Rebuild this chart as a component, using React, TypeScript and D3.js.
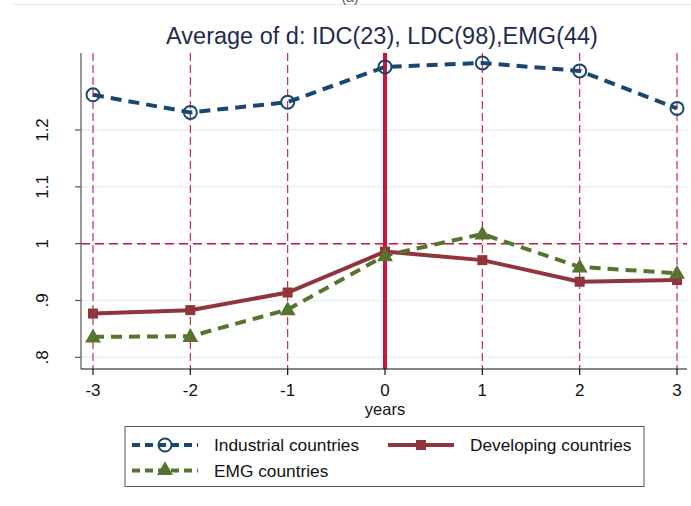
import React from "react";
import * as d3 from "d3";

const years = [-3, -2, -1, 0, 1, 2, 3];
const industrial = [1.262, 1.231, 1.249, 1.311, 1.318, 1.304, 1.238];
const developing = [0.877, 0.883, 0.914, 0.986, 0.971, 0.933, 0.936];
const emg = [0.836, 0.837, 0.884, 0.979, 1.017, 0.959, 0.948];
const yTicks = [0.8, 0.9, 1, 1.1, 1.2];
const yTickLabels = [".8", ".9", "1", "1.1", "1.2"];
const titleText = "Average of d: IDC(23), LDC(98),EMG(44)";
const seriesNames = ["Industrial countries", "Developing countries", "EMG countries"];

const W = 691;
const H = 506;
const plotLeft = 81;
const plotRight = 687;
const plotTop = 53;
const plotBottom = 369;

const NAVY = "#1a476f";
const MAROON = "#90353b";
const GREEN = "#55752f";
const RED = "#c8163d";
const FONT = "'Liberation Sans', Arial, Helvetica, sans-serif";

export default function App() {
  const x = d3.scaleLinear().domain([-3, 3]).range([93, 677]);
  const y = d3.scaleLinear().domain([0.8, 1.2]).range([357.3, 130]);

  const line = d3
    .line<number>()
    .x((_, i) => x(years[i]))
    .y((v) => y(v));

  const tri = d3.symbol().type(d3.symbolTriangle).size(110)();

  const triAt = (cx: number, cy: number, key: any) => (
    <path key={key} d={tri || ""} transform={`translate(${cx},${cy})`} fill={GREEN} />
  );
  const sqAt = (cx: number, cy: number, key: any) => (
    <rect key={key} x={cx - 5} y={cy - 5} width={10} height={10} fill={MAROON} />
  );
  const circAt = (cx: number, cy: number, key: any) => (
    <circle key={key} cx={cx} cy={cy} r={6.5} fill="white" fillOpacity={0} stroke={NAVY} strokeWidth={2} />
  );

  return (
    <svg
      width={W}
      height={H}
      style={{ position: "absolute", left: 0, top: 0, background: "white" }}
      fontFamily={FONT}
    >
      <rect x={0} y={0} width={W} height={H} fill="white" />
      <line x1={13} x2={W} y1={4.5} y2={4.5} stroke="#e3e3e3" strokeWidth={1} />
      <text x={350} y={2} fontSize={14} textAnchor="middle" fill="#555">(a)</text>

      <text x={382} y={44} fontSize={23.5} textAnchor="middle" fill="#1e2b50">
        {titleText}
      </text>

      {/* horizontal grid */}
      {yTicks.map((t) => (
        <line key={"g" + t} x1={plotLeft} x2={plotRight} y1={y(t)} y2={y(t)} stroke="#eaf2f3" strokeWidth={1.5} />
      ))}

      {/* vertical dashed reference lines */}
      {years.filter((v) => v !== 0).map((v) => (
        <line
          key={"v" + v}
          x1={x(v)}
          x2={x(v)}
          y1={plotTop}
          y2={plotBottom}
          stroke={RED}
          strokeWidth={1.1}
          strokeDasharray="8,4"
        />
      ))}
      <line x1={plotLeft} x2={plotRight} y1={y(1)} y2={y(1)} stroke={RED} strokeWidth={1.5} strokeDasharray="9,5" />
      <line x1={x(0)} x2={x(0)} y1={plotTop} y2={plotBottom} stroke={RED} strokeWidth={4} />

      {/* axes */}
      <line x1={plotLeft} x2={plotLeft} y1={plotTop} y2={plotBottom} stroke="#555" strokeWidth={1.2} />
      <line x1={plotLeft} x2={plotRight} y1={plotBottom} y2={plotBottom} stroke="#111" strokeWidth={1.2} />
      {yTicks.map((t, i) => (
        <g key={"yt" + t}>
          <line x1={plotLeft - 6} x2={plotLeft} y1={y(t)} y2={y(t)} stroke="#555" strokeWidth={1.2} />
          <text
            transform={`translate(48,${y(t)}) rotate(-90)`}
            fontSize={17}
            textAnchor="middle"
            fill="#111"
          >
            {yTickLabels[i]}
          </text>
        </g>
      ))}
      {years.map((v) => (
        <g key={"xt" + v}>
          <line x1={x(v)} x2={x(v)} y1={plotBottom} y2={plotBottom + 6} stroke="#111" strokeWidth={1.2} />
          <text x={x(v)} y={396} fontSize={17} textAnchor="middle" fill="#111">
            {v}
          </text>
        </g>
      ))}
      <text x={385} y={415} fontSize={16.5} textAnchor="middle" fill="#111">
        years
      </text>

      {/* series */}
      <path d={line(industrial) || ""} fill="none" stroke={NAVY} strokeWidth={4} strokeDasharray="11,7" />
      <path d={line(developing) || ""} fill="none" stroke={MAROON} strokeWidth={4} />
      <path d={line(emg) || ""} fill="none" stroke={GREEN} strokeWidth={4} strokeDasharray="11,7" />
      {industrial.map((v, i) => circAt(x(years[i]), y(v), "c" + i))}
      {developing.map((v, i) => sqAt(x(years[i]), y(v), "s" + i))}
      {emg.map((v, i) => triAt(x(years[i]), y(v) + 1, "t" + i))}

      {/* legend */}
      <rect x={125} y={426.5} width={519} height={60} fill="white" stroke="#555" strokeWidth={1} />
      <line x1={132} x2={198} y1={445} y2={445} stroke={NAVY} strokeWidth={4} strokeDasharray="8,5" />
      {circAt(165, 445, "lc")}
      <text x={214} y={451} fontSize={17.3} fill="#111">{seriesNames[0]}</text>
      <line x1={388} x2={454} y1={445} y2={445} stroke={MAROON} strokeWidth={4} />
      {sqAt(421, 445, "ls")}
      <text x={470} y={451} fontSize={17.3} fill="#111">{seriesNames[1]}</text>
      <line x1={132} x2={198} y1={470.5} y2={470.5} stroke={GREEN} strokeWidth={4} strokeDasharray="8,5" />
      {triAt(165, 470.5, "lt")}
      <text x={214} y={476.5} fontSize={17.3} fill="#111">{seriesNames[2]}</text>
    </svg>
  );
}
